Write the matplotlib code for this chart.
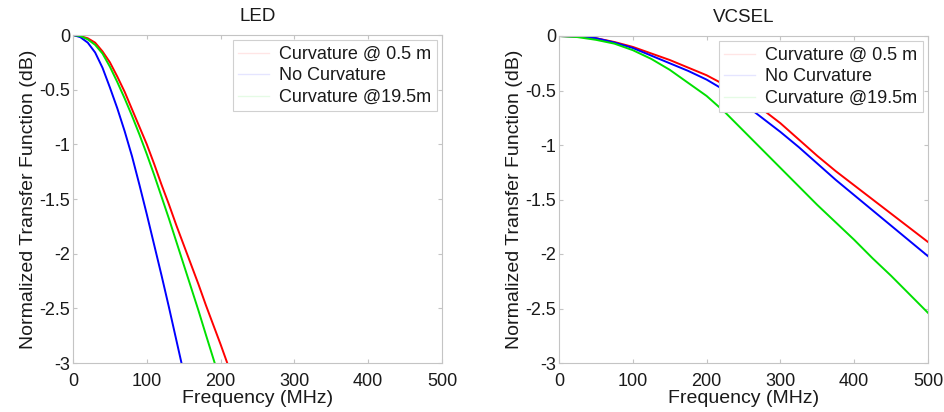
import matplotlib
matplotlib.use("Agg")
import matplotlib.pyplot as plt
from matplotlib.lines import Line2D
from matplotlib.ticker import FuncFormatter

plt.rcParams['font.family'] = ['Liberation Sans', 'DejaVu Sans']

labels = ["Curvature @ 0.5 m", "No Curvature", "Curvature @19.5m"]
titles = ["LED", "VCSEL"]

# LED data (Frequency MHz, dB)
led_red_f = [0, 10, 20, 30, 40, 50, 60, 70, 80, 90, 100, 110, 120, 130, 140, 150, 160, 170, 180, 190, 200, 209]
led_red_db = [0, -0.01, -0.03, -0.07, -0.15, -0.25, -0.38, -0.52, -0.68, -0.84, -1.00, -1.18, -1.37, -1.55,
              -1.74, -1.92, -2.10, -2.28, -2.47, -2.65, -2.83, -3.0]
led_blue_f = [0, 10, 20, 30, 40, 50, 60, 70, 80, 90, 100, 110, 120, 130, 140, 147]
led_blue_db = [0, -0.02, -0.07, -0.16, -0.30, -0.48, -0.67, -0.88, -1.11, -1.37, -1.64, -1.92, -2.20, -2.49,
               -2.79, -3.0]
led_green_f = [0, 10, 20, 30, 40, 50, 60, 70, 80, 90, 100, 110, 120, 130, 140, 150, 160, 170, 180, 192]
led_green_db = [0, -0.01, -0.04, -0.09, -0.17, -0.29, -0.43, -0.58, -0.74, -0.91, -1.09, -1.28, -1.48, -1.68,
                -1.89, -2.10, -2.31, -2.52, -2.74, -3.0]

# VCSEL data
vc_f = [0, 25, 50, 75, 100, 125, 150, 175, 200, 225, 250, 275, 300, 325, 350, 375, 400, 425, 450, 475, 500]
vc_red_db = [0, -0.005, -0.02, -0.055, -0.10, -0.16, -0.22, -0.29, -0.36, -0.45, -0.56, -0.67, -0.80, -0.95,
             -1.10, -1.24, -1.37, -1.50, -1.63, -1.76, -1.89]
vc_blue_db = [0, -0.005, -0.02, -0.06, -0.11, -0.18, -0.25, -0.32, -0.40, -0.50, -0.62, -0.75, -0.88, -1.02,
              -1.17, -1.32, -1.46, -1.60, -1.74, -1.88, -2.02]
vc_green_db = [0, -0.01, -0.035, -0.07, -0.13, -0.21, -0.31, -0.43, -0.55, -0.70, -0.87, -1.04, -1.21, -1.38,
               -1.55, -1.71, -1.87, -2.04, -2.20, -2.37, -2.54]

x_ticks = [0, 100, 200, 300, 400, 500]
y_ticks = [0, -0.5, -1, -1.5, -2, -2.5, -3]

RED, BLUE, GREEN = '#ff0000', '#0000ff', '#00e000'

fig = plt.figure(figsize=(9.45, 4.12), dpi=100)
ax1 = fig.add_axes([73/945, 49/412, 369/945, 328/412])
ax2 = fig.add_axes([559/945, 49/412, 369/945, 327/412])

def fmt(v, pos):
    return '%g' % v

series = [
    (ax1, [(led_red_f, led_red_db, RED), (led_blue_f, led_blue_db, BLUE), (led_green_f, led_green_db, GREEN)]),
    (ax2, [(vc_f, vc_red_db, RED), (vc_f, vc_blue_db, BLUE), (vc_f, vc_green_db, GREEN)]),
]

edge = '#c4c4c4'
txt = '#1a1a1a'
for (ax, lines), title in zip(series, titles):
    for f, d, c in lines:
        ax.plot(f, d, color=c, lw=1.4, zorder=2)
    ax.set_xlim(0, 500)
    ax.set_ylim(-3, 0)
    ax.set_xticks(x_ticks)
    ax.set_yticks(y_ticks)
    ax.yaxis.set_major_formatter(FuncFormatter(fmt))
    ax.tick_params(direction='in', length=3, color=edge, labelsize=13, labelcolor=txt,
                   top=True, right=True)
    ax.tick_params(axis='y', pad=2)
    ax.tick_params(axis='x', pad=7)
    for sp in ax.spines.values():
        sp.set_color(edge)
        sp.set_linewidth(0.8)
    ax.set_title(title, fontsize=13.5, pad=10, color=txt)
    ax.set_xlabel('Frequency (MHz)', fontsize=14, labelpad=0, color=txt)
    ax.set_ylabel('Normalized Transfer Function (dB)', fontsize=14, labelpad=2, color=txt)
    handles = [Line2D([], [], color=c, lw=1.0, alpha=0.1) for c in (RED, BLUE, GREEN)]
    leg = ax.legend(handles, labels, loc='upper right', fontsize=13, frameon=True, fancybox=False,
                    edgecolor='#d0d0d0', framealpha=1.0, borderaxespad=0.3, handlelength=1.7,
                    handletextpad=0.55, labelspacing=0.25, borderpad=0.3)
    leg.get_frame().set_linewidth(0.8)
    for t in leg.get_texts():
        t.set_color(txt)
    leg.set_zorder(5)

fig.savefig('out.png', dpi=100)
